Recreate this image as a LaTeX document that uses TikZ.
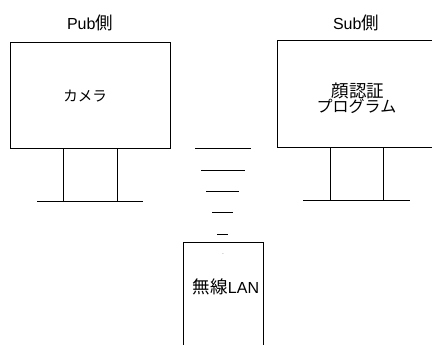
\documentclass[tikz,border=0pt]{standalone}
\usepackage{fontspec}
\setmainfont{Liberation Sans}
\newfontfamily\cjk{Noto Sans CJK JP}
\newcommand{\fsz}[1]{\fontsize{#1}{#1}\selectfont}
\begin{document}
\begin{tikzpicture}[x=1pt,y=-1pt,
  lbl/.style={font=\fsz{16},inner sep=0pt,align=center},
  ln/.style={line width=1pt}]
\useasboundingbox (0,0) rectangle (432,345);
% left
\node[lbl] (pub) at (90,22.5) {Pub{\cjk\fsz{17.5}側}};
\draw[ln] (10,43) rectangle (170,149);
\node[lbl] (cam) at (85,96) {\cjk\fsz{14.5}カメラ};
\draw[ln] (63,149) rectangle (117,202);
\coordinate (lb1) at (37,202); \coordinate (lb2) at (143,202);
\draw[ln] (lb1) -- (lb2);
% right
\node[lbl] (sub) at (356,22.5) {Sub{\cjk\fsz{17.5}側}};
\draw[ln] (277,41) rectangle (432,148);
\node[lbl] (face) at (358,91) {\cjk\fsz{17.5}顔認証};
\node[lbl] (prog) at (356.5,106) {\cjk\fsz{16}プログラム};
\draw[ln] (330,148) rectangle (383,201);
\coordinate (rb1) at (303,201); \coordinate (rb2) at (410,201);
\draw[ln] (rb1) -- (rb2);
% waves
\coordinate (w1a) at (195,149); \coordinate (w1b) at (251,149);
\coordinate (w2a) at (201,171); \coordinate (w2b) at (245,171);
\coordinate (w3a) at (206,192); \coordinate (w3b) at (239,192);
\coordinate (w4a) at (212,213); \coordinate (w4b) at (233,213);
\coordinate (w5a) at (217,235); \coordinate (w5b) at (228,235);
\draw[ln] (w1a)--(w1b) (w2a)--(w2b) (w3a)--(w3b) (w4a)--(w4b) (w5a)--(w5b);
% wlan
\draw[ln] (183,360) -- (183,243) -- (263,243) -- (263,360);
\node[lbl,font=\fsz{5}] (dot) at (223,254) {.};
\node[lbl] (wlan) at (226,287) {{\cjk\fsz{17.5}無線}LAN};
\end{tikzpicture}
\end{document}
